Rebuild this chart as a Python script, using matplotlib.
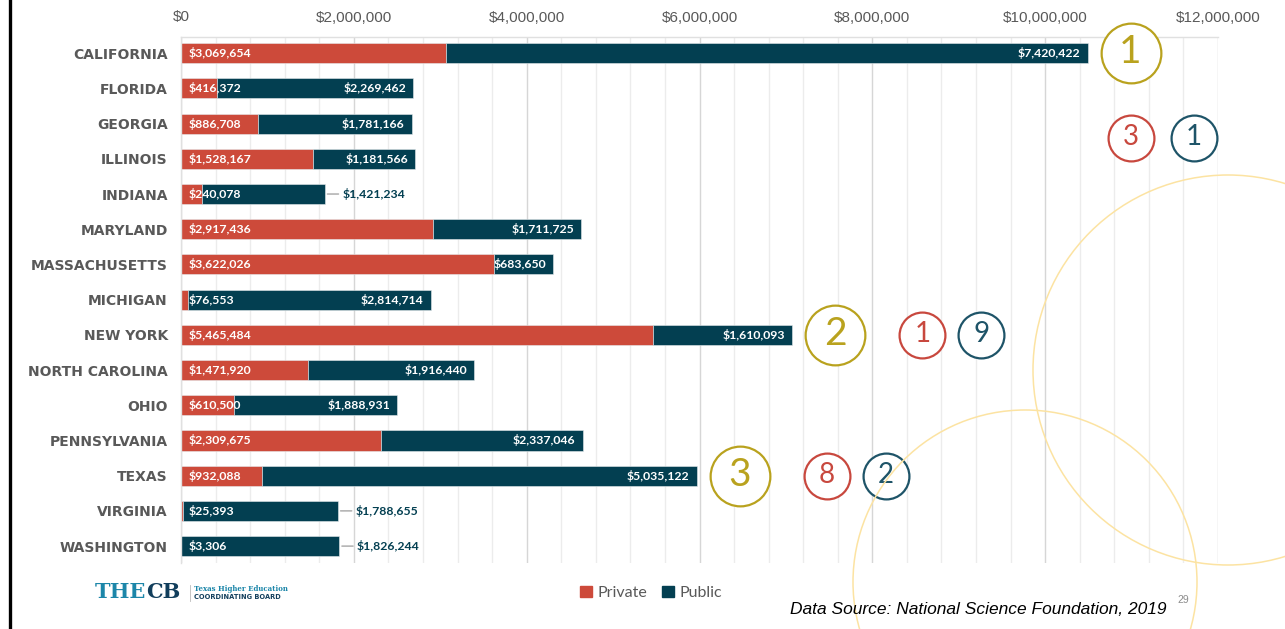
import numpy as np
import matplotlib
matplotlib.use("Agg")
import matplotlib.pyplot as plt
import matplotlib.transforms as mtransforms
from matplotlib.patches import Ellipse
from matplotlib.lines import Line2D
from matplotlib.ticker import FuncFormatter, MultipleLocator

# data
states = ["CALIFORNIA", "FLORIDA", "GEORGIA", "ILLINOIS", "INDIANA", "MARYLAND",
          "MASSACHUSETTS", "MICHIGAN", "NEW YORK", "NORTH CAROLINA", "OHIO",
          "PENNSYLVANIA", "TEXAS", "VIRGINIA", "WASHINGTON"]
private = [3069654, 416372, 886708, 1528167, 240078, 2917436, 3622026, 76553,
           5465484, 1471920, 610500, 2309675, 932088, 25393, 3306]
public = [7420422, 2269462, 1781166, 1181566, 1421234, 1711725, 683650, 2814714,
          1610093, 1916440, 1888931, 2337046, 5035122, 1788655, 1826244]
outside_labels = ["INDIANA", "VIRGINIA", "WASHINGTON"]

# rank badges: overall, private, public
overall_rank = {"CALIFORNIA": 1, "NEW YORK": 2, "TEXAS": 3}
private_rank = {"CALIFORNIA": 3, "NEW YORK": 1, "TEXAS": 8}
public_rank = {"CALIFORNIA": 1, "NEW YORK": 9, "TEXAS": 2}

RED = "#CD4A3A"
TEAL = "#033F51"
GOLD = "#B9A21E"
RANK_RED = "#C8483E"
RANK_TEAL = "#1E5468"
GREY = "#595959"

W, H = 1285, 629
fig = plt.figure(figsize=(W / 100, H / 100), dpi=100)
ax = fig.add_axes([181 / W, (H - 563) / H, 1037 / W, 526 / H])

y = np.arange(len(states))
private = np.array(private)
public = np.array(public)
total = private + public

ax.barh(y, private, height=0.57, color=RED, edgecolor="#E6EAEC", linewidth=0.4, zorder=2)
ax.barh(y, public, left=private, height=0.57, color=TEAL, edgecolor="#E6EAEC", linewidth=0.4, zorder=2)

ax.set_xlim(0, 12000000)
ax.set_ylim(len(states) - 1 + 0.48, -0.46)

# axis cosmetics
ax.xaxis.tick_top()
ax.xaxis.set_major_locator(MultipleLocator(2000000))
ax.xaxis.set_minor_locator(MultipleLocator(400000))
ax.xaxis.set_major_formatter(FuncFormatter(lambda v, p: "${:,.0f}".format(v)))
ax.tick_params(axis="x", which="both", length=0, pad=9, labelsize=11, labelcolor=GREY)
for lab in ax.get_xticklabels():
    lab.set_family("Liberation Sans")
ax.grid(axis="x", which="major", color="#D6D6D6", linewidth=1)
ax.grid(axis="x", which="minor", color="#ECECEC", linewidth=1)
ax.set_axisbelow(True)

ax.set_yticks(y)
ax.set_yticklabels(states, fontsize=10, fontweight="bold", color=GREY, family="DejaVu Sans")
ax.tick_params(axis="y", length=0, pad=9.5)

for s in ["bottom", "right"]:
    ax.spines[s].set_visible(False)
for s in ["top", "left"]:
    ax.spines[s].set_color("#E0E0E0")
    ax.spines[s].set_linewidth(1)

# value labels
lab_font = dict(family="Lato", fontweight="bold", fontsize=8.8)
for i, st in enumerate(states):
    t_in = mtransforms.offset_copy(ax.transData, fig=fig, x=8, y=0, units="dots")
    ax.text(0, i, "${:,}".format(private[i]), transform=t_in, ha="left", va="center",
            color="white", zorder=4, **lab_font)
    if st in outside_labels:
        ax.annotate("", xy=(total[i], i), xytext=(14, 0), textcoords="offset pixels",
                    arrowprops=dict(arrowstyle="-", color="#A6A6A6", lw=1,
                                    shrinkA=0, shrinkB=2))
        t_out = mtransforms.offset_copy(ax.transData, fig=fig, x=18, y=0, units="dots")
        ax.text(total[i], i, "${:,}".format(public[i]), transform=t_out, ha="left",
                va="center", color=TEAL, zorder=4, **lab_font)
    else:
        t_end = mtransforms.offset_copy(ax.transData, fig=fig, x=-7, y=0, units="dots")
        ax.text(total[i], i, "${:,}".format(public[i]), transform=t_end, ha="right",
                va="center", color="white", zorder=4, **lab_font)


def badge(xv, yv, dx, dy, num, color, big):
    tr = mtransforms.offset_copy(ax.transData, fig=fig, x=dx, y=dy, units="dots")
    ms = 43 if big else 33
    ax.plot([xv], [yv], "o", ms=ms, mfc="white", mec=color, mew=1.6,
            transform=tr, clip_on=False, zorder=5)
    tr_txt = mtransforms.offset_copy(ax.transData, fig=fig, x=dx, y=dy + 1, units="dots")
    ax.text(xv, yv, str(num), transform=tr_txt, ha="center", va="center",
            fontsize=28 if big else 20, color=color, family="Lato",
            fontweight="normal", clip_on=False, zorder=6)


for st, r in overall_rank.items():
    i = states.index(st)
    badge(total[i], i, 43, 0, r, GOLD, True)
    if st == "CALIFORNIA":
        badge(total[i], i, 43, -85, private_rank[st], RANK_RED, False)
        badge(total[i], i, 106, -85, public_rank[st], RANK_TEAL, False)
    else:
        badge(total[i], i, 130, 0, private_rank[st], RANK_RED, False)
        badge(total[i], i, 189, 0, public_rank[st], RANK_TEAL, False)

# decorative slide circles
for cx, cy, r in [(1228, 370, 195), (1025, 582, 172)]:
    fig.add_artist(Ellipse((cx / W, 1 - cy / H), 2 * r / W, 2 * r / H,
                           transform=fig.transFigure, fill=False,
                           edgecolor="#FCE3A2", linewidth=1.1, zorder=1))

# slide left border
fig.add_artist(Line2D([9.5 / W, 9.5 / W], [0, 1], color="black", linewidth=2.4,
                      transform=fig.transFigure))

# legend
handles = [plt.Rectangle((0, 0), 1, 1, color=RED), plt.Rectangle((0, 0), 1, 1, color=TEAL)]
fig.legend(handles, ["Private", "Public"], loc="center",
           bbox_to_anchor=(651 / W, 1 - 593 / H), ncol=2, frameon=False,
           handlelength=0.75, handleheight=0.75, handletextpad=0.35,
           columnspacing=0.9, prop=dict(family="Lato", size=11.5), labelcolor=GREY)

# logo
renderer = fig.canvas.get_renderer()
t_the = fig.text(95 / W, 1 - 592 / H, "THE", family="DejaVu Serif", fontweight="bold",
                 fontsize=15, color="#1C86A9", ha="left", va="center")
bb = t_the.get_window_extent(renderer)
fig.text(bb.x1 / W, 1 - 592 / H, "CB", family="DejaVu Serif", fontweight="bold",
         fontsize=15, color="#123E5C", ha="left", va="center")
fig.add_artist(Line2D([190 / W, 190 / W], [1 - 585 / H, 1 - 601 / H], color="#BBBBBB",
                      linewidth=0.6, transform=fig.transFigure))
fig.text(194 / W, 1 - 589 / H, "Texas Higher Education", family="DejaVu Serif",
         fontweight="bold", fontsize=5, color="#1C86A9", ha="left", va="center")
fig.text(194 / W, 1 - 597 / H, "COORDINATING BOARD", family="DejaVu Sans",
         fontweight="bold", fontsize=4.8, color="#123E5C", ha="left", va="center")

# source and page number
fig.text(1167 / W, 1 - 610 / H, "Data Source: National Science Foundation, 2019",
         family="Liberation Sans", style="italic", fontsize=12.5, color="black",
         ha="right", va="center")
fig.text(1183 / W, 1 - 600 / H, "29", family="Liberation Sans", fontsize=7.5,
         color="#8C8C8C", ha="center", va="center")

fig.savefig("out.png", dpi=100)
